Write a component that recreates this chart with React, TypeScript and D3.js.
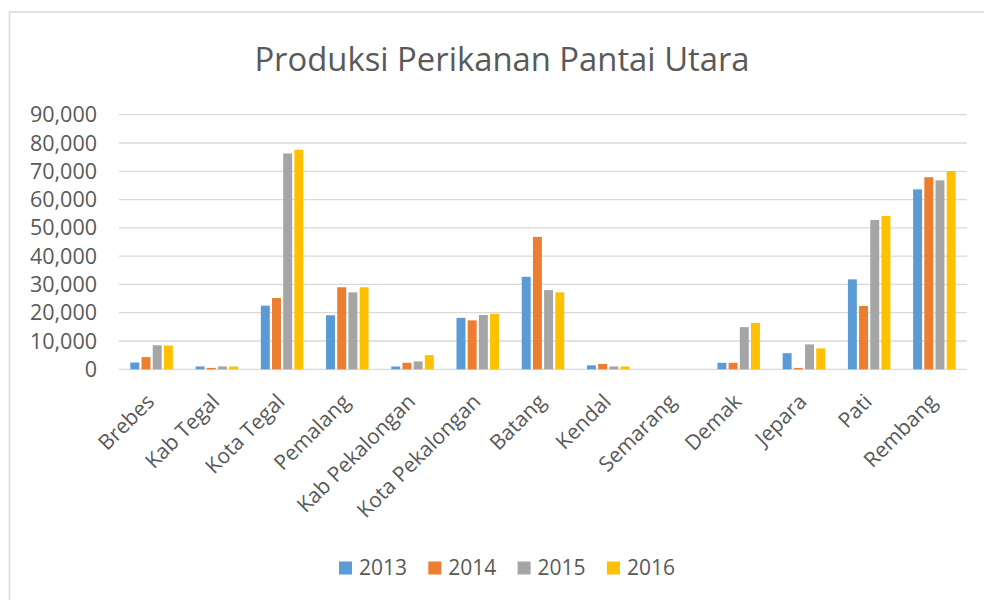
import React from "react";
import * as d3 from "d3";

const categories = ["Brebes", "Kab Tegal", "Kota Tegal", "Pemalang", "Kab Pekalongan", "Kota Pekalongan", "Batang", "Kendal", "Semarang", "Demak", "Jepara", "Pati", "Rembang"];
const seriesNames = ["2013", "2014", "2015", "2016"];
const values2013 = [2400, 1000, 22500, 19100, 1000, 18200, 32700, 1400, 0, 2300, 5700, 31800, 63600];
const values2014 = [4300, 500, 25200, 29000, 2300, 17300, 46800, 1900, 0, 2300, 500, 22400, 67900];
const values2015 = [8500, 1000, 76300, 27200, 2800, 19200, 28000, 1000, 0, 14900, 8800, 52800, 66800];
const values2016 = [8400, 1000, 77600, 29000, 5000, 19600, 27200, 1000, 0, 16400, 7400, 54200, 70100];
const seriesValues = [values2013, values2014, values2015, values2016];
const colors = ["#5B9BD5", "#ED7D31", "#A5A5A5", "#FFC000"];
const yTicks = [0, 10000, 20000, 30000, 40000, 50000, 60000, 70000, 80000, 90000];
const title = "Produksi Perikanan Pantai Utara";

const W = 984;
const H = 600;
const plotLeft = 119;
const plotRight = 967;
const plotTop = 114.7;
const plotBottom = 369.3;
const FONT = "'Open Sans', sans-serif";
const TEXT = "#595959";

export default function App() {
  const x0 = d3
    .scaleBand<string>()
    .domain(categories)
    .range([plotLeft, plotRight])
    .paddingInner(0.314)
    .paddingOuter(0.157);
  const x1 = d3
    .scaleBand<string>()
    .domain(seriesNames)
    .range([0, x0.bandwidth()])
    .paddingInner(0.2)
    .paddingOuter(0.1);
  const y = d3.scaleLinear().domain([0, 90000]).range([plotBottom, plotTop]);
  const fmt = d3.format(",");

  const legendStart = 339;
  const legendStep = 89.3;

  return (
    <svg
      width={W}
      height={H}
      style={{ position: "absolute", left: 0, top: 0, background: "#fff" }}
    >
      <rect x={0} y={0} width={W} height={H} fill="#fff" />
      <rect x={9.5} y={12} width={990} height={620} fill="#fff" stroke="#d9d9d9" strokeWidth={1.5} />
      <text
        x={502}
        y={71}
        textAnchor="middle"
        fontFamily={FONT}
        fontSize={32.8}
        fill={TEXT}
      >
        {title}
      </text>
      {yTicks.map((t) => (
        <g key={t}>
          <line x1={plotLeft} x2={plotRight} y1={y(t)} y2={y(t)} stroke="#d9d9d9" strokeWidth={1.3} />
          <text
            x={97}
            y={y(t)}
            dy="0.35em"
            textAnchor="end"
            fontFamily={FONT}
            fontSize={21.5}
            fill={TEXT}
          >
            {fmt(t)}
          </text>
        </g>
      ))}
      {categories.map((c, ci) => (
        <g key={c} transform={`translate(${x0(c)},0)`}>
          {seriesNames.map((s, si) => {
            const v = seriesValues[si][ci];
            if (!v) return null;
            return (
              <rect
                key={s}
                x={x1(s)}
                y={y(v)}
                width={x1.bandwidth()}
                height={y(0) - y(v)}
                fill={colors[si]}
              />
            );
          })}
        </g>
      ))}
      {categories.map((c) => {
        const cx = (x0(c) as number) + x0.bandwidth() / 2 + 4;
        const cy = 403;
        return (
          <text
            key={c}
            x={cx}
            y={cy}
            textAnchor="end"
            transform={`rotate(-45 ${cx} ${cy})`}
            fontFamily={FONT}
            fontSize={21}
            fill={TEXT}
          >
            {c}
          </text>
        );
      })}
      {seriesNames.map((s, i) => (
        <g key={s} transform={`translate(${legendStart + i * legendStep},0)`}>
          <rect x={0} y={561.5} width={13} height={13} fill={colors[i]} />
          <text x={20} y={575} fontFamily={FONT} fontSize={21} fill={TEXT}>
            {s}
          </text>
        </g>
      ))}
    </svg>
  );
}
